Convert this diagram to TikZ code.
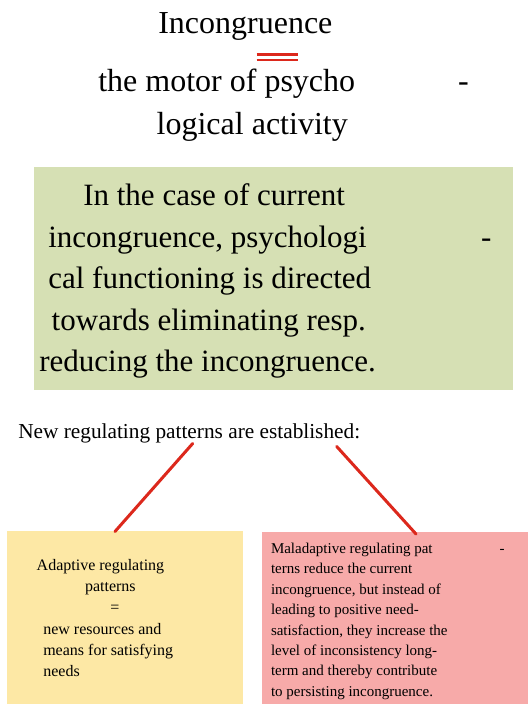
\documentclass[tikz,border=0pt]{standalone}
\usepackage{fontspec}
\setmainfont{Liberation Serif}
\definecolor{boxgreen}{RGB}{214,224,180}
\definecolor{boxyellow}{RGB}{253,232,165}
\definecolor{boxpink}{RGB}{247,170,169}
\definecolor{linered}{RGB}{220,40,28}
\begin{document}
\begin{tikzpicture}[x=1pt,y=-1pt,
  txt/.style={anchor=base west,inner sep=0pt,outer sep=0pt},
  big/.style={txt,font=\fontsize{32}{40}\selectfont},
  mid/.style={txt,font=\fontsize{31}{40}\selectfont},
  sub/.style={txt,font=\fontsize{21.3}{26}\selectfont},
  ysm/.style={txt,font=\fontsize{16}{20}\selectfont},
  psm/.style={txt,font=\fontsize{15}{19}\selectfont},
  panel/.style={inner sep=0pt,outer sep=0pt,draw=none},
  conn/.style={draw=linered,line width=3pt,line cap=round}]
\useasboundingbox (0,0) rectangle (528,704);
% title
\node[big] (t1) at (158.3,33.3) {Incongruence};
\coordinate (eqa1) at (256.7,54.3);
\coordinate (eqb1) at (298.3,54.3);
\coordinate (eqa2) at (256.7,59.7);
\coordinate (eqb2) at (298.3,59.7);
\draw[linered,line width=2.4pt] (eqa1) -- (eqb1);
\draw[linered,line width=2.4pt] (eqa2) -- (eqb2);
\node[big] (t2) at (98.3,91) {the motor of psycho};
\node[big] (t2h) at (458,91) {-};
\node[big] (t3) at (156.7,134) {logical activity};
% green panel
\path[fill=boxgreen] (34,167) rectangle (513,390);
\node[panel] (gbox) at (273.5,278.5) {};
\node[mid] (g1) at (83.3,205.7) {In the case of current};
\node[mid] (g2) at (48.3,247) {incongruence, psychologi};
\node[mid] (g2h) at (481,247) {-};
\node[mid] (g3) at (48.3,288.5) {cal functioning is directed};
\node[mid] (g4) at (51.7,330) {towards eliminating resp.};
\node[mid] (g5) at (39.3,371.7) {reducing the incongruence.};
% subheading
\node[sub] (nr) at (18.3,438.3) {New regulating patterns are established:};
% yellow panel
\path[fill=boxyellow] (7,531) rectangle (243,704);
\node[ysm] (y1) at (36.7,570) {Adaptive regulating};
\node[ysm] (y2) at (85,591.5) {patterns};
\node[ysm,anchor=base] (y3) at (115,612.5) {=};
\node[ysm] (y4) at (43.3,634) {new resources and};
\node[ysm] (y5) at (43.3,655.3) {means for satisfying};
\node[ysm] (y6) at (43.3,676.7) {needs};
% pink panel
\path[fill=boxpink] (261.5,531.7) rectangle (528,704);
\node[psm] (p1) at (271,553.3) {Maladaptive regulating pat};
\node[psm] (p1h) at (499.5,553.3) {-};
\node[psm] (p2) at (271,573.7) {terns reduce the current};
\node[psm] (p3) at (271,594) {incongruence, but instead of};
\node[psm] (p4) at (271,614.5) {leading to positive need-};
\node[psm] (p5) at (271,635) {satisfaction, they increase the};
\node[psm] (p6) at (271,655.3) {level of inconsistency long-};
\node[psm] (p7) at (271,675.7) {term and thereby contribute};
\node[psm] (p8) at (271,696) {to persisting incongruence.};
% connectors
\coordinate (c1a) at (192.7,443.5);
\coordinate (c1b) at (115,531.5);
\coordinate (c2a) at (336.7,446.5);
\coordinate (c2b) at (416,534);
\draw[conn] (c1a) -- (c1b);
\draw[conn] (c2a) -- (c2b);
\end{tikzpicture}
\end{document}
